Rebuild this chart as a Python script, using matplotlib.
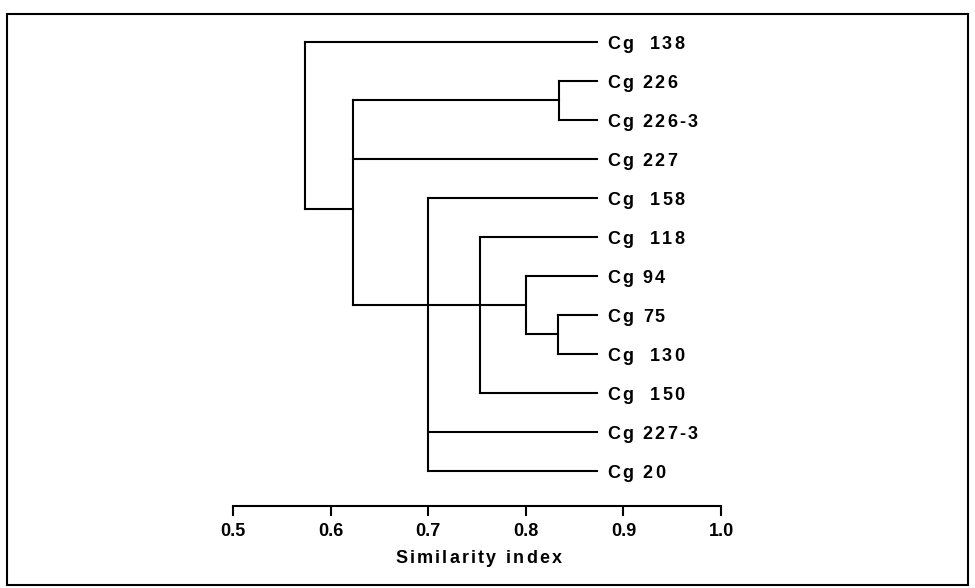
import matplotlib
matplotlib.use("Agg")
import matplotlib.pyplot as plt
from matplotlib.patches import Rectangle
from matplotlib.font_manager import FontProperties, findfont, get_font

# ---------------- data ----------------
leaf_labels = ["Cg  138", "Cg 226", "Cg 226-3", "Cg 227", "Cg  158", "Cg  118",
               "Cg 94", "Cg 75", "Cg  130", "Cg  150", "Cg 227-3", "Cg 20"]
node_names = ["F", "E", "D", "C", "B", "A", "root"]
node_similarity = [0.833, 0.800, 0.753, 0.700, 0.834, 0.623, 0.574]
node_children = [
    ["Cg 75", "Cg  130"],
    ["Cg 94", "F"],
    ["Cg  118", "E", "Cg  150"],
    ["Cg  158", "D", "Cg 227-3", "Cg 20"],
    ["Cg 226", "Cg 226-3"],
    ["B", "Cg 227", "C"],
    ["Cg  138", "A"],
]
leaf_end = 0.873
x_ticks = [0.5, 0.6, 0.7, 0.8, 0.9, 1.0]
x_ticklabels = ["0.5", "0.6", "0.7", "0.8", "0.9", "1.0"]
x_label = "Similarity index"

# layout quirk of the original drawing: these nodes join in line with another
node_anchor = {"D": "E", "C": "D"}

# ---------------- figure ----------------
W, H, DPI = 975, 588, 100
fig = plt.figure(figsize=(W / DPI, H / DPI), dpi=DPI)
FONT = "Liberation Sans"

ax_left, ax_right = 233, 721
ax_top, ax_bottom = 30, 506
ax = fig.add_axes([ax_left / W, 1 - ax_bottom / H,
                   (ax_right - ax_left) / W, (ax_bottom - ax_top) / H])
leaf_px0, leaf_step = 42, 39.0
ax.set_xlim(0.5, 1.0)
ax.set_ylim((ax_bottom - leaf_px0) / leaf_step, (ax_top - leaf_px0) / leaf_step)

lw = 1.5
ypos = {lab: i for i, lab in enumerate(leaf_labels)}
xpos = {lab: leaf_end for lab in leaf_labels}
for name, sim, kids in zip(node_names, node_similarity, node_children):
    ys = [ypos[k] for k in kids]
    ax.plot([sim, sim], [min(ys), max(ys)], color="black", lw=lw,
            solid_capstyle="projecting")
    for k in kids:
        ax.plot([sim, xpos[k]], [ypos[k], ypos[k]], color="black", lw=lw,
                solid_capstyle="projecting")
    xpos[name] = sim
    if name in node_anchor:
        ypos[name] = ypos[node_anchor[name]]
    else:
        ypos[name] = (min(ys) + max(ys)) / 2 + (0.15 if name == "A" else 0)


def advances(s, fp):
    font = get_font(findfont(fp))
    font.set_size(fp.get_size_in_points(), DPI)
    out = []
    for ch in s:
        g = font.load_char(ord(ch))
        out.append(g.linearHoriAdvance / 65536.0)
    return out


def tracked(axis, s, xy, coords, size, track_px, start_pt=0.0, center=False):
    fp = FontProperties(family=FONT, weight="bold", size=size)
    adv = advances(s, fp)
    total = sum(adv) + track_px * (len(s) - 1)
    off = start_pt
    if center:
        off -= total / 2 * 72 / DPI
    dy = -0.729 * size / 2  # center the capitals on the anchor
    for ch, a in zip(s, adv):
        if ch != " ":
            axis.annotate(ch, xy=xy, xycoords=coords, xytext=(off, dy),
                          textcoords="offset points", ha="left", va="baseline",
                          fontproperties=fp, annotation_clip=False)
        off += (a + track_px) * 72 / DPI


for lab in leaf_labels:
    tracked(ax, lab, (leaf_end, ypos[lab]), "data", 13, 2.1, start_pt=7.5)

# x axis
for s in ["left", "right", "top"]:
    ax.spines[s].set_visible(False)
ax.spines["bottom"].set_linewidth(1.5)
ax.set_yticks([])
ax.set_xticks(x_ticks)
ax.set_xticklabels(x_ticklabels, fontfamily=FONT, fontweight="bold", fontsize=13)
ax.tick_params(axis="x", direction="out", length=7, width=1.5, pad=5.5)

label_y = 1 - (556 - ax_top) / (ax_bottom - ax_top)
tracked(ax, x_label, (0.5, label_y), "axes fraction", 13, 2.2, start_pt=1.0,
        center=True)

# outer frame
fx0, fy0, fx1, fy1 = 7, 14, 968, 585
fig.patches.append(Rectangle((fx0 / W, 1 - fy1 / H), (fx1 - fx0) / W, (fy1 - fy0) / H,
                             transform=fig.transFigure, fill=False,
                             edgecolor="black", lw=1.5))

fig.savefig("out.png", dpi=DPI)
